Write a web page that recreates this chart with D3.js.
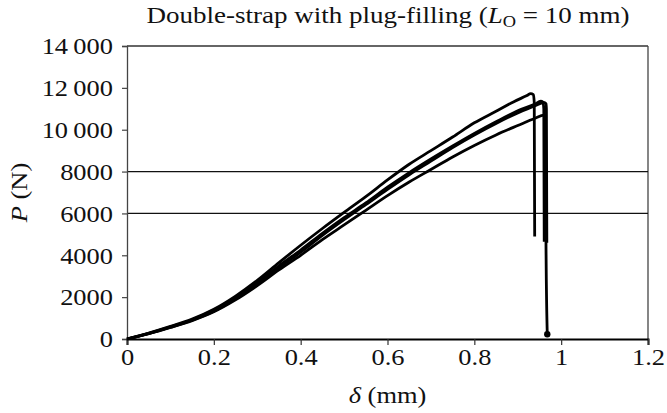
<!DOCTYPE html>
<html>
<head>
<meta charset="utf-8">
<script src="https://cdn.jsdelivr.net/npm/d3@7"></script>
<style>
  html, body { margin: 0; padding: 0; background: #fff; }
  svg { display: block; }
  text { font-family: "Liberation Serif", "Times New Roman", serif; fill: #111; }
</style>
</head>
<body>
<svg id="chart" width="667" height="413"></svg>
<script>
// Load–displacement records for four specimens (δ in mm, P in N)
const specimenA = [
  [0, 0], [0.05, 280], [0.1, 600], [0.15, 950], [0.2, 1420], [0.25, 2050], [0.3, 2800],
  [0.35, 3650], [0.4, 4480], [0.45, 5280], [0.5, 6050], [0.55, 6800], [0.6, 7600],
  [0.65, 8350], [0.7, 9000], [0.75, 9650], [0.8, 10330], [0.85, 10880], [0.89, 11330],
  [0.92, 11620], [0.93, 11720], [0.936, 11680], [0.938, 11300], [0.939, 4900]
];
const specimenB = [
  [0, 0], [0.05, 270], [0.1, 580], [0.15, 920], [0.2, 1380], [0.25, 1980], [0.3, 2700],
  [0.35, 3500], [0.4, 4250], [0.45, 5050], [0.5, 5800], [0.55, 6500], [0.6, 7250],
  [0.65, 7950], [0.7, 8600], [0.75, 9220], [0.8, 9820], [0.85, 10380], [0.9, 10900],
  [0.94, 11230], [0.953, 11360], [0.958, 11320], [0.96, 11000], [0.961, 4650]
];
const specimenC = [
  [0, 0], [0.05, 260], [0.1, 560], [0.15, 900], [0.2, 1330], [0.25, 1920], [0.3, 2620],
  [0.35, 3400], [0.4, 4150], [0.45, 4950], [0.5, 5700], [0.55, 6420], [0.6, 7150],
  [0.65, 7850], [0.7, 8500], [0.75, 9150], [0.8, 9750], [0.85, 10300], [0.9, 10800],
  [0.94, 11150], [0.96, 11300], [0.965, 11240], [0.966, 11000], [0.967, 4600]
];
const specimenD = [
  [0, 0], [0.05, 250], [0.1, 550], [0.15, 880], [0.2, 1300], [0.25, 1870], [0.3, 2550],
  [0.35, 3300], [0.4, 4000], [0.45, 4750], [0.5, 5450], [0.55, 6150], [0.6, 6850],
  [0.65, 7500], [0.7, 8100], [0.75, 8700], [0.8, 9250], [0.85, 9750], [0.9, 10200],
  [0.94, 10550], [0.96, 10700], [0.964, 10600], [0.965, 4700], [0.968, 230]
];
const seriesList = [specimenA, specimenB, specimenC, specimenD];

const xTicks = [0, 0.2, 0.4, 0.6, 0.8, 1, 1.2];
const xTickLabels = ["0", "0.2", "0.4", "0.6", "0.8", "1", "1.2"];
const yTicks = [0, 2000, 4000, 6000, 8000, 10000, 12000, 14000];
const yTickLabels = ["0", "2000", "4000", "6000", "8000", "10\u2009000", "12\u2009000", "14\u2009000"];
const gridValues = [6000, 8000];

const svg = d3.select("#chart");
const margin = { left: 127, right: 19, top: 46, bottom: 74 };
const W = 667, H = 413;
const FS = 23;        // label font size
const SX = 1.15;      // horizontal stretch of the serif face

const x = d3.scaleLinear().domain([0, 1.2]).range([margin.left, W - margin.right]);
const y = d3.scaleLinear().domain([0, 14000]).range([H - margin.bottom, margin.top]);

// Frame: top and right border
svg.append("line")
  .attr("x1", x(0)).attr("x2", x(1.2)).attr("y1", y(14000)).attr("y2", y(14000))
  .attr("stroke", "#333").attr("stroke-width", 1.3);
svg.append("line")
  .attr("x1", x(1.2)).attr("x2", x(1.2)).attr("y1", y(14000)).attr("y2", y(0))
  .attr("stroke", "#444").attr("stroke-width", 1.3);

// Horizontal reference lines
svg.append("g").selectAll("line").data(gridValues).join("line")
  .attr("x1", x(0)).attr("x2", x(1.2))
  .attr("y1", d => y(d)).attr("y2", d => y(d))
  .attr("stroke", "#111").attr("stroke-width", 1.2);

// Y axis
const yAxis = d3.axisLeft(y).tickValues(yTicks).tickSize(5).tickPadding(0)
  .tickFormat((d, i) => yTickLabels[i]);
const gy = svg.append("g").attr("transform", `translate(${x(0)},0)`).call(yAxis);
gy.attr("font-family", null).attr("font-size", null);
gy.select(".domain").attr("stroke", "#444").attr("stroke-width", 1.3);
gy.selectAll(".tick line").attr("stroke", "#444").attr("stroke-width", 1.2);
gy.selectAll(".tick text")
  .attr("font-size", FS).attr("fill", "#111")
  .attr("x", -14 / SX).attr("dy", "0.34em")
  .attr("transform", `scale(${SX},1)`);

// X axis
const xAxis = d3.axisBottom(x).tickValues(xTicks).tickSize(6).tickPadding(4)
  .tickFormat((d, i) => xTickLabels[i]);
const gx = svg.append("g").attr("transform", `translate(0,${y(0)})`).call(xAxis);
gx.attr("font-family", null).attr("font-size", null);
gx.select(".domain").attr("stroke", "#000").attr("stroke-width", 2);
gx.selectAll(".tick line").attr("stroke", "#333").attr("stroke-width", 1.2);
gx.selectAll(".tick text")
  .attr("font-size", FS).attr("fill", "#111")
  .attr("transform", `scale(${SX},1)`);

// Curves
const line = d3.line().x(d => x(d[0])).y(d => y(d[1])).curve(d3.curveMonotoneX);
svg.append("g").selectAll("path").data(seriesList).join("path")
  .attr("d", line)
  .attr("fill", "none")
  .attr("stroke", "#000")
  .attr("stroke-width", 2.8)
  .attr("stroke-linejoin", "round");

// End marker on the specimen that unloads to zero
const last = specimenD[specimenD.length - 1];
svg.append("circle")
  .attr("cx", x(last[0])).attr("cy", y(last[1])).attr("r", 3.2).attr("fill", "#000");

// Title
const title = svg.append("text")
  .attr("transform", `translate(388,23) scale(${SX},1)`)
  .attr("text-anchor", "middle").attr("font-size", 23.5);
title.append("tspan").text("Double-strap with plug-filling (");
title.append("tspan").attr("font-style", "italic").text("L");
title.append("tspan").attr("font-size", 16).attr("dy", 4).text("O");
title.append("tspan").attr("dy", -4).text(" = 10 mm)");

// Axis titles
const yl = svg.append("text")
  .attr("transform", `translate(27,${(y(0) + y(14000)) / 2}) rotate(-90) scale(${SX},1)`)
  .attr("text-anchor", "middle").attr("font-size", FS);
yl.append("tspan").attr("font-style", "italic").text("P");
yl.append("tspan").text(" (N)");

const xl = svg.append("text")
  .attr("transform", `translate(${(x(0) + x(1.2)) / 2},403) scale(${SX},1)`)
  .attr("text-anchor", "middle").attr("font-size", FS);
xl.append("tspan").attr("font-style", "italic").text("δ");
xl.append("tspan").text(" (mm)");
</script>
</body>
</html>
